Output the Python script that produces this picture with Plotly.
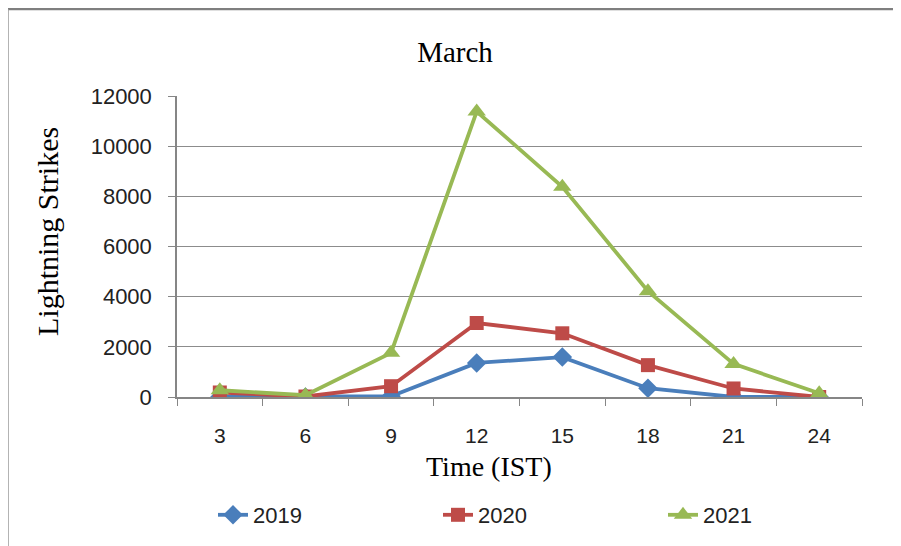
import plotly.graph_objects as go

hours = ["3", "6", "9", "12", "15", "18", "21", "24"]
s2019 = [0, 0, 30, 1360, 1590, 350, 0, 0]
s2020 = [180, 20, 430, 2950, 2540, 1270, 340, 0]
s2021 = [270, 70, 1760, 11380, 8380, 4220, 1320, 150]

series = [
    ("2019", s2019, "#4A7EBB", "diamond", 15),
    ("2020", s2020, "#BE4B48", "square", 14),
    ("2021", s2021, "#98B954", "triangle-up", 16),
]

fig = go.Figure()
for name, vals, col, sym, sz in series:
    fig.add_trace(go.Scatter(
        x=hours, y=vals, name=name, mode="lines+markers",
        line=dict(color=col, width=3.8),
        marker=dict(symbol=sym, size=sz, color=col),
    ))

L, R, T, B = 169, 47, 88, 157
PW, PH = 901 - L - R, 546 - T - B

def px(x):
    return (x - L) / PW

def py(y):
    return (T + PH - y) / PH

fig.update_layout(
    width=901, height=546,
    paper_bgcolor="white", plot_bgcolor="white",
    margin=dict(l=L, r=R, t=T, b=B),
    title=dict(text="March", x=447 / 901, xref="container", y=1 - 44 / 546,
               yanchor="middle", xanchor="center",
               font=dict(family="Liberation Serif", size=29, color="black")),
    font=dict(family="Liberation Sans", size=20, color="black"),
    showlegend=True,
    legend=dict(orientation="h", x=px(205), xanchor="left",
                y=py(507), yanchor="middle",
                entrywidth=180, entrywidthmode="pixels",
                font=dict(family="Liberation Sans", size=22, color="#222222")),
    xaxis=dict(
        type="category", range=[-0.5, 7.5], tickson="boundaries",
        ticks="outside", ticklen=7, tickcolor="#868686",
        showline=True, linecolor="#868686", linewidth=1.5,
        showgrid=False, zeroline=False, ticklabelstandoff=19,
        tickfont=dict(family="Liberation Sans", size=21, color="#222222"),
    ),
    yaxis=dict(
        range=[0, 12000], dtick=2000, tickformat="d",
        ticks="outside", ticklen=7, tickcolor="#868686",
        showline=True, linecolor="#868686", linewidth=1.5,
        showgrid=True, gridcolor="#8C8C8C", gridwidth=1.2, zeroline=False,
        ticklabelstandoff=12,
        tickfont=dict(family="Liberation Sans", size=22, color="#222222"),
    ),
    annotations=[
        dict(text="Time (IST)", xref="paper", yref="paper",
             x=px(481), y=py(458), xanchor="center", yanchor="middle",
             showarrow=False,
             font=dict(family="Liberation Serif", size=28, color="black")),
        dict(text="Lightning Strikes", xref="paper", yref="paper",
             x=px(39), y=py(224), xanchor="center", yanchor="middle",
             textangle=-90, showarrow=False,
             font=dict(family="Liberation Serif", size=30, color="black")),
    ],
    shapes=[
        dict(type="line", xref="paper", yref="paper",
             x0=px(0), x1=px(901), y0=py(1), y1=py(1),
             line=dict(color="#7F7F7F", width=2.5)),
        dict(type="line", xref="paper", yref="paper",
             x0=px(0), x1=px(0), y0=py(1), y1=py(546),
             line=dict(color="#9A9A9A", width=1.5)),
    ],
)

fig.write_html("out.html")
